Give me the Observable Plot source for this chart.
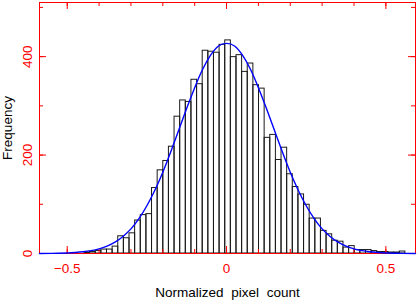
<!DOCTYPE html>
<html><head><meta charset="utf-8">
<script src="https://cdn.jsdelivr.net/npm/d3@7"></script>
<script src="https://cdn.jsdelivr.net/npm/@observablehq/plot@0.6"></script>
<style>
html,body{margin:0;padding:0;background:#fff;}
#chart svg{display:block;}
#chart text{word-spacing:4px;}
</style></head><body><div id="chart"></div>
<script>
// Histogram bins (regular): lower edge of first bin and bin width
const binStart = -0.4459;
const binWidth = 0.01767;
const counts = [2,3,5,8,8,14,35,31,41,67,78,80,133,169,188,217,278,311,308,353,344,412,410,408,424,433,399,403,369,386,342,335,235,241,190,215,161,135,120,99,71,71,46,39,26,24,12,15,7,7,7,5,3,3,2,2,4];
// Fitted curve
const curveX = [-0.587,-0.55,-0.5,-0.475,-0.45,-0.425,-0.4,-0.375,-0.35,-0.325,-0.3,-0.275,-0.25,-0.225,-0.2,-0.175,-0.15,-0.125,-0.1,-0.075,-0.05,-0.025,0,0.025,0.05,0.075,0.1,0.125,0.15,0.175,0.2,0.225,0.25,0.275,0.3,0.325,0.35,0.375,0.4,0.425,0.45,0.475,0.5,0.55,0.593];
const curveY = [0.1,0.3,1.1,2.0,3.5,5.8,9.5,15.1,23,34.7,50,70.9,97,128.4,165,206.6,251,295.1,337,374.4,403,421.7,427,421.7,403,374.4,337,295.1,251,206.6,165,128.4,97,70.9,50,34.7,23,15.1,9.5,5.8,3.5,2.0,1.1,0.3,0.1];
const xMinorTicks = [-0.5,-0.4,-0.3,-0.2,-0.1,0,0.1,0.2,0.3,0.4,0.5];
const xMajorTicks = [-0.5,0,0.5];
const xTickLabels = ["\u22120.5","0","0.5"];
const yMinorTicks = [0,100,200,300,400,500];
const yMajorTicks = [0,200,400];
const yTickLabels = ["0","200","400"];
const xTitle = "Normalized pixel count";
const yTitle = "Frequency";

const W = 417, H = 300, mL = 39, mR = 2, mT = 2, mB = 47;
const plotH = H - mT - mB, plotW = W - mL - mR;
const red = "#ff0000";
const font = "'Liberation Sans', Arial, sans-serif";
const fs = 13.5;

const bins = counts.map((c, i) => ({x1: binStart + i * binWidth, x2: binStart + (i + 1) * binWidth, count: c}));
const curve = curveX.map((x, i) => ({x, y: curveY[i]}));

const chart = Plot.plot({
  width: W, height: H,
  marginLeft: mL, marginRight: mR, marginTop: mT, marginBottom: mB,
  x: {domain: [-0.587, 0.593], axis: null},
  y: {domain: [0, 510], axis: null},
  style: {fontFamily: font, background: "white"},
  marks: [
    Plot.rect(bins, {x1: "x1", x2: "x2", y1: 0, y2: "count", fill: "none", stroke: "#1a1a1a", strokeWidth: 1}),
    Plot.frame({stroke: red, strokeWidth: 1}),
    Plot.tickX(xMinorTicks, {x: d => d, stroke: red, insetTop: plotH - 4}),
    Plot.tickX(xMajorTicks, {x: d => d, stroke: red, insetTop: plotH - 7}),
    Plot.tickX(xMinorTicks, {x: d => d, stroke: red, insetBottom: plotH - 4}),
    Plot.tickX(xMajorTicks, {x: d => d, stroke: red, insetBottom: plotH - 7}),
    Plot.tickY(yMinorTicks, {y: d => d, stroke: red, insetRight: plotW - 4}),
    Plot.tickY(yMajorTicks, {y: d => d, stroke: red, insetRight: plotW - 7}),
    Plot.tickY(yMinorTicks, {y: d => d, stroke: red, insetLeft: plotW - 4}),
    Plot.tickY(yMajorTicks, {y: d => d, stroke: red, insetLeft: plotW - 7}),
    Plot.line(curve, {x: "x", y: "y", stroke: "#0000ff", strokeWidth: 1.4, curve: "natural"}),
    Plot.text(xMajorTicks, {x: d => d, text: (d, i) => xTickLabels[i], frameAnchor: "bottom", lineAnchor: "top", dy: 10, fill: red, fontSize: fs, fontFamily: font}),
    Plot.text(yMajorTicks, {y: d => d, text: (d, i) => yTickLabels[i], frameAnchor: "left", rotate: -90, lineAnchor: "bottom", textAnchor: "middle", dx: -7.5, fill: red, fontSize: fs, fontFamily: font}),
    Plot.text([xTitle], {text: d => d, frameAnchor: "bottom", lineAnchor: "bottom", dy: 43, fill: "black", fontSize: fs, fontFamily: font}),
    Plot.text([yTitle], {text: d => d, frameAnchor: "left", rotate: -90, lineAnchor: "bottom", textAnchor: "middle", dx: -27.5, fill: "black", fontSize: fs, fontFamily: font})
  ]
});
document.getElementById("chart").appendChild(chart);
</script>
</body></html>
